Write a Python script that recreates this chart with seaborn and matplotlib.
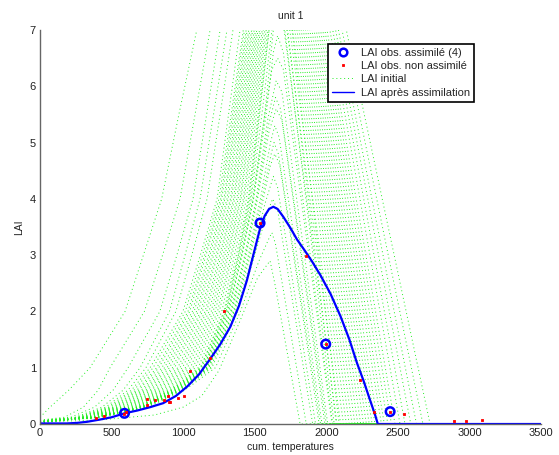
import pandas as pd
import matplotlib
matplotlib.use('Agg')
import matplotlib.pyplot as plt
import seaborn as sns
from matplotlib.lines import Line2D

# assimilated LAI observations (circled)
assim_x = [590, 1537, 1996, 2446]
assim_y = [0.19, 3.57, 1.42, 0.22]

# all LAI observations (red dots)
obs_x = [391, 447, 585, 600, 745, 745, 803, 869, 892, 898, 906, 962, 1009, 1048, 1188, 1286,
         1537, 1857, 1996, 2232, 2334, 2446, 2544, 2893, 2975, 3091]
obs_y = [0.10, 0.15, 0.18, 0.21, 0.44, 0.34, 0.43, 0.43, 0.50, 0.39, 0.39, 0.46, 0.49, 0.94, 1.18, 2.00,
         3.57, 2.98, 1.42, 0.78, 0.22, 0.22, 0.17, 0.05, 0.06, 0.08]

# LAI after assimilation
post_x = [0, 186, 260, 330, 420, 500, 590, 680, 770, 860, 950, 1030, 1110, 1190, 1260, 1330,
          1390, 1445, 1500, 1540, 1570, 1600, 1630, 1660, 1700, 1750, 1795, 1850, 1900, 1960,
          2030, 2100, 2160, 2215, 2260, 2305, 2340, 2360, 3500]
post_y = [0.01, 0.01, 0.02, 0.04, 0.08, 0.12, 0.19, 0.24, 0.30, 0.37, 0.50, 0.67, 0.88, 1.16, 1.42, 1.73,
          2.10, 2.55, 3.10, 3.50, 3.70, 3.82, 3.86, 3.82, 3.68, 3.48, 3.28, 3.08, 2.89, 2.64,
          2.31, 1.91, 1.51, 1.08, 0.77, 0.43, 0.17, 0.0, 0.0]

# initial ensemble, members whose peak is above the frame:
# x where each member reaches the LAI levels below, then x where it falls back through 7 and to 0
rise_levels = [0.12, 0.3, 0.6, 1, 2, 3, 4, 5.5, 7]
ens_y0 = [0.12, 0.07, 0.06, 0.05, 0.05, 0.04, 0.05, 0.04, 0.06, 0.03, 0.05, 0.04, 0.05,
          0.03, 0.04, 0.06, 0.04, 0.03, 0.05, 0.04, 0.03, 0.05, 0.04, 0.03, 0.04, 0.03]
ens_x012 = [0, 171, 215, 245, 259, 269, 277, 285, 290, 298, 305, 311, 317,
            324, 329, 337, 342, 348, 355, 361, 368, 374, 380, 387, 393, 399]
ens_x03 = [70, 303, 381, 433, 459, 477, 490, 505, 515, 528, 539, 551, 561,
           574, 583, 596, 606, 617, 629, 639, 651, 662, 673, 685, 696, 707]
ens_x06 = [200, 406, 510, 580, 614, 638, 656, 676, 689, 707, 722, 737, 751,
           768, 780, 798, 812, 826, 842, 855, 872, 886, 901, 917, 931, 946]
ens_x1 = [349, 489, 615, 699, 740, 769, 790, 815, 830, 852, 870, 888, 905,
          925, 940, 962, 978, 995, 1015, 1030, 1050, 1068, 1085, 1105, 1122, 1140]
ens_x2 = [594, 729, 837, 904, 949, 998, 1015, 1034, 1046, 1064, 1077, 1093, 1106,
          1123, 1135, 1153, 1165, 1181, 1196, 1210, 1224, 1240, 1253, 1270, 1285, 1301]
ens_x3 = [722, 856, 956, 1013, 1060, 1120, 1135, 1150, 1160, 1177, 1187, 1202, 1213,
          1229, 1239, 1255, 1265, 1280, 1292, 1306, 1316, 1332, 1342, 1358, 1372, 1386]
ens_x4 = [850, 978, 1069, 1118, 1167, 1237, 1250, 1262, 1270, 1285, 1292, 1306, 1315,
          1330, 1338, 1352, 1360, 1375, 1384, 1398, 1405, 1420, 1428, 1442, 1455, 1468]
ens_x55 = [970, 1083, 1164, 1212, 1258, 1317, 1335, 1345, 1355, 1366, 1375, 1386, 1396,
           1408, 1417, 1428, 1437, 1448, 1458, 1469, 1478, 1490, 1500, 1511, 1523, 1534]
ens_x7 = [1095, 1188, 1258, 1306, 1348, 1397, 1420, 1428, 1440, 1447, 1458, 1466, 1478,
          1485, 1496, 1505, 1514, 1522, 1533, 1540, 1552, 1560, 1571, 1580, 1590, 1600]
ens_x7d = [2140, 2110, 2085, 2065, 2045, 2025, 2005, 1990, 1975, 1960, 1945, 1930, 1915,
           1900, 1885, 1870, 1855, 1840, 1825, 1810, 1795, 1780, 1765, 1745, 1725, 1705]
ens_x0d = [2725, 2675, 2630, 2590, 2550, 2515, 2480, 2455, 2430, 2405, 2385, 2360, 2340,
           2320, 2300, 2280, 2260, 2240, 2220, 2200, 2180, 2160, 2140, 2120, 2100, 2075]

# initial ensemble, members with a peak near or below the top of the frame
peak_x = [
    [0, 380, 680, 910, 1120, 1290, 1385, 1460, 1530, 1600, 1680, 1760, 2090, 3500],
    [0, 385, 690, 920, 1130, 1300, 1395, 1475, 1550, 1620, 1670, 1730, 2070, 3500],
    [0, 390, 700, 930, 1140, 1310, 1405, 1485, 1570, 1630, 1665, 1710, 2055, 3500],
    [0, 395, 705, 940, 1145, 1315, 1412, 1492, 1580, 1630, 1660, 1700, 2045, 3500],
    [0, 400, 710, 950, 1150, 1320, 1410, 1490, 1570, 1620, 1660, 1700, 2040, 3500],
    [0, 400, 715, 955, 1158, 1330, 1430, 1510, 1590, 1650, 1690, 2010, 3500],
    [0, 402, 718, 960, 1162, 1335, 1435, 1515, 1595, 1645, 1680, 2000, 3500],
    [0, 405, 720, 965, 1165, 1340, 1440, 1520, 1600, 1650, 1690, 1990, 3500],
    [0, 407, 725, 970, 1172, 1350, 1455, 1540, 1610, 1640, 1670, 1970, 3500],
    [0, 409, 728, 975, 1176, 1355, 1462, 1550, 1615, 1635, 1665, 1960, 3500],
    [0, 410, 730, 980, 1180, 1360, 1470, 1560, 1610, 1640, 1675, 1950, 3500],
    [0, 412, 735, 988, 1190, 1370, 1485, 1570, 1630, 1660, 1925, 3500],
    [0, 415, 740, 995, 1200, 1380, 1500, 1580, 1625, 1660, 1905, 3500],
    [0, 420, 755, 1010, 1225, 1400, 1530, 1600, 1620, 1645, 1860, 3500],
    [0, 450, 800, 1000, 1130, 1250, 1400, 1520, 1607, 1640, 1817, 3500],
]
peak_y = [
    [0.04, 0.12, 0.3, 0.6, 1, 2, 3, 4, 5.5, 7, 8.2, 7, 0, 0],
    [0.04, 0.12, 0.3, 0.6, 1, 2, 3, 4, 5.5, 7, 7.7, 7, 0, 0],
    [0.04, 0.12, 0.3, 0.6, 1, 2, 3, 4, 5.5, 7, 7.3, 7, 0, 0],
    [0.04, 0.12, 0.3, 0.6, 1, 2, 3, 4, 5.5, 6.6, 6.9, 6.6, 0, 0],
    [0.04, 0.12, 0.3, 0.6, 1, 2, 3, 4, 5.5, 6.3, 6.5, 6.3, 0, 0],
    [0.04, 0.12, 0.3, 0.6, 1, 2, 3, 4, 5.4, 6.1, 5.9, 0, 0],
    [0.04, 0.12, 0.3, 0.6, 1, 2, 3, 4, 5.3, 5.8, 5.6, 0, 0],
    [0.04, 0.12, 0.3, 0.6, 1, 2, 3, 4, 5.2, 5.6, 5.4, 0, 0],
    [0.04, 0.12, 0.3, 0.6, 1, 2, 3, 4, 5.0, 5.3, 5.1, 0, 0],
    [0.04, 0.12, 0.3, 0.6, 1, 2, 3, 4, 4.8, 5.0, 4.8, 0, 0],
    [0.04, 0.12, 0.3, 0.6, 1, 2, 3, 4.0, 4.6, 4.8, 4.6, 0, 0],
    [0.04, 0.12, 0.3, 0.6, 1, 2, 3, 3.9, 4.4, 4.2, 0, 0],
    [0.03, 0.12, 0.3, 0.6, 1, 2, 3, 3.7, 4.0, 3.8, 0, 0],
    [0.03, 0.12, 0.3, 0.6, 1, 2, 2.9, 3.3, 3.4, 3.2, 0, 0],
    [0.03, 0.08, 0.16, 0.3, 0.5, 0.95, 1.85, 2.6, 2.9, 2.5, 0, 0],
]

# build a long table of ensemble members
rows = []
rise_cols = [ens_x012, ens_x03, ens_x06, ens_x1, ens_x2, ens_x3, ens_x4, ens_x55, ens_x7]
for m in range(len(ens_x1)):
    xs = [0] + [c[m] for c in rise_cols]
    ys = [ens_y0[m]] + rise_levels
    # off-frame top point so the curve leaves through the top edge
    xs += [(ens_x7[m] + ens_x7d[m]) / 2, ens_x7d[m], ens_x0d[m], 3500]
    ys += [9.0, 7.0, 0.0, 0.0]
    for i, (x, y) in enumerate(zip(xs, ys)):
        rows.append((m, i, x, y))
for k in range(len(peak_x)):
    for i, (x, y) in enumerate(zip(peak_x[k], peak_y[k])):
        rows.append((100 + k, i, x, y))
ens_df = pd.DataFrame(rows, columns=['member', 'step', 'temp', 'lai'])

sns.set_style('white')
plt.rcParams['font.family'] = ['Liberation Sans', 'DejaVu Sans']

fig = plt.figure(figsize=(5.59, 4.55), dpi=100)
ax = fig.add_axes([0.0716, 0.0681, 0.8962, 0.8659])

green = '#22ee22'
dots = (0, (1, 3))
sns.lineplot(data=ens_df, x='temp', y='lai', units='member', estimator=None, sort=False,
             color=green, lw=0.7, linestyle=dots, legend=False, ax=ax)
sns.lineplot(x=post_x, y=post_y, color='#0000ff', lw=1.6, sort=False, estimator=None, ax=ax)
sns.scatterplot(x=assim_x, y=assim_y, marker='o', s=38, facecolors='none',
                edgecolors='#0000ff', linewidths=1.8, ax=ax, zorder=4)
sns.scatterplot(x=obs_x, y=obs_y, marker='s', s=4, color='#ff0000',
                edgecolor='#ff0000', linewidth=0.6, ax=ax, zorder=5)

ax.set_xlim(0, 3500)
ax.set_ylim(0, 7)
ax.set_xticks(range(0, 3501, 500))
ax.set_yticks(range(0, 8))
ax.tick_params(direction='in', length=3, width=0.8, color='#444444',
               labelsize=8, labelcolor='#222222', pad=3)
for side in ['top', 'right']:
    ax.spines[side].set_visible(False)
for side in ['left', 'bottom']:
    ax.spines[side].set_color('#666666')
    ax.spines[side].set_linewidth(1.0)

ax.set_title('unit 1', fontsize=7.5, color='#222222', pad=8)
ax.set_xlabel('cum. temperatures', fontsize=7.5, color='#222222', labelpad=3)
ax.set_ylabel('LAI', fontsize=7.5, color='#222222', labelpad=4)

handles = [
    Line2D([], [], ls='none', marker='o', mfc='none', mec='#0000ff', mew=1.8, ms=5.5),
    Line2D([], [], ls='none', marker='s', mfc='#ff0000', mec='#ff0000', mew=0.6, ms=1.6),
    Line2D([], [], color=green, lw=0.7, ls=dots),
    Line2D([], [], color='#0000ff', lw=1.0),
]
labels = ['LAI obs. assimilé (4)', 'LAI obs. non assimilé', 'LAI initial', 'LAI après assimilation']
leg = ax.legend(handles, labels, loc='upper right', bbox_to_anchor=(0.866, 0.965),
                fontsize=8, frameon=True, fancybox=False, framealpha=1,
                edgecolor='black', handlelength=2.0, handletextpad=0.6,
                labelspacing=0.3, borderpad=0.35, borderaxespad=0)
leg.get_frame().set_linewidth(1.2)

fig.savefig('out.png', dpi=100)
